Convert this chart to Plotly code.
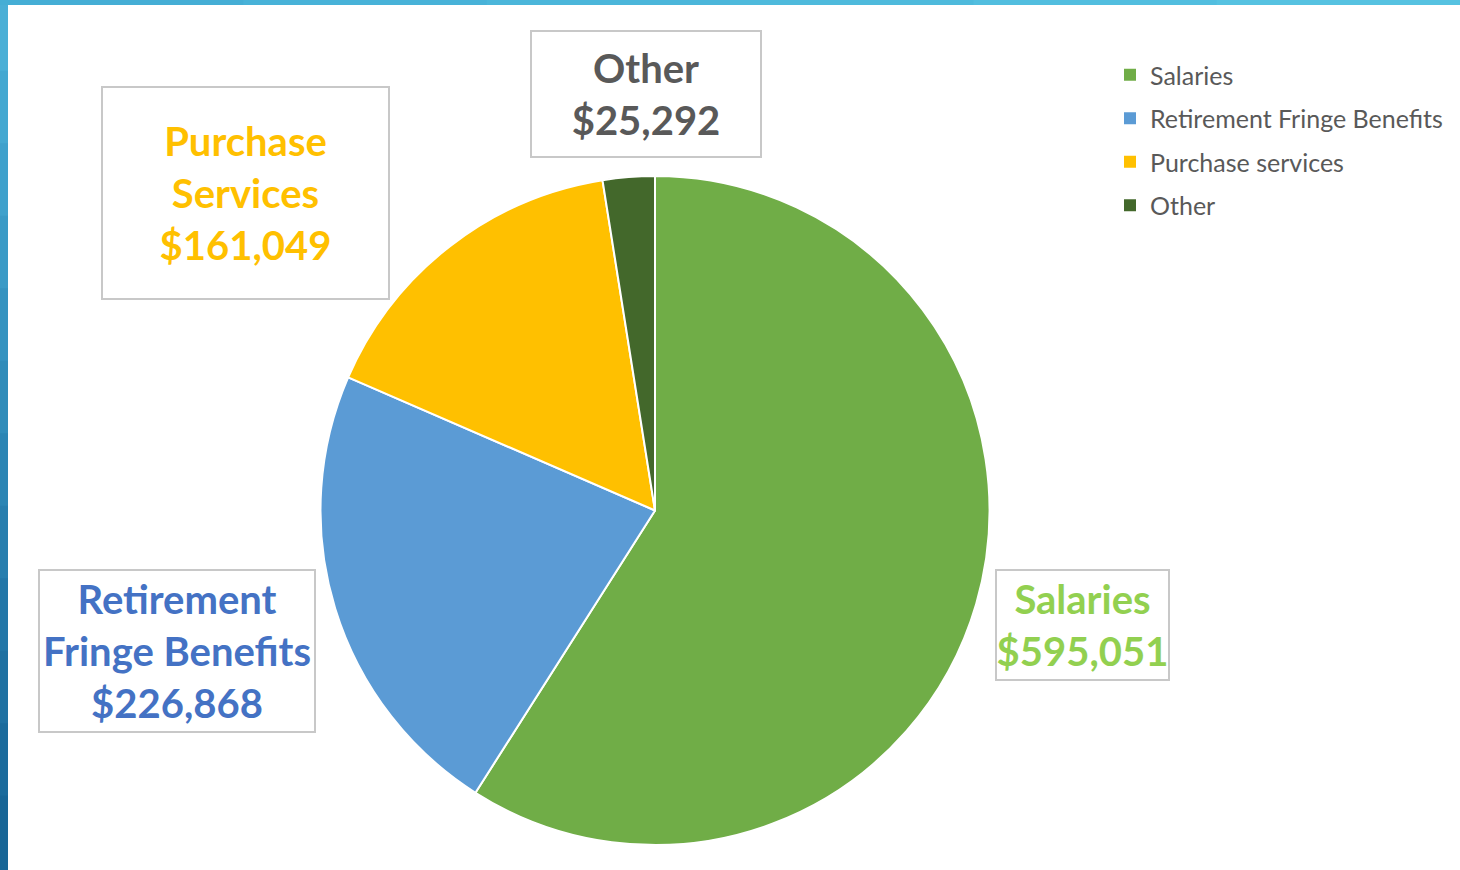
import plotly.graph_objects as go

categories = ["Salaries", "Retirement Fringe Benefits", "Purchase services", "Other"]
values = [595051, 226868, 161049, 25292]
slice_colors = ["#70AD47", "#5B9BD5", "#FFC000", "#43682B"]

label_texts = ["Salaries", "Retirement<br>Fringe Benefits", "Purchase<br>Services", "Other"]
label_colors = ["#92D050", "#4472C4", "#FFC000", "#595959"]

W, H = 1460, 870
FONT = "Lato, 'Open Sans', sans-serif"

fig = go.Figure()

fig.add_trace(go.Pie(
    labels=categories,
    values=values,
    sort=False,
    direction="clockwise",
    rotation=0,
    marker=dict(colors=slice_colors, line=dict(color="white", width=2)),
    textinfo="none",
    hoverinfo="label+value",
    showlegend=False,
    domain=dict(x=[320 / W, 990 / W], y=[1 - 845 / H, 1 - 176 / H]),
))

# legend entries
for cat, col in zip(categories, slice_colors):
    fig.add_trace(go.Scatter(
        x=[None], y=[None], mode="markers", name=cat, legendgroup=cat,
        marker=dict(symbol="square", size=11, color=col),
        showlegend=True,
    ))

# label boxes: (center x px, center y px, width px, height px)
boxes = [
    (1082.5, 625, 175, 112),
    (177, 651, 278, 164),
    (245.5, 193, 289, 214),
    (646, 94, 232, 128),
]

for txt, val, col, (cx, cy, bw, bh) in zip(label_texts, values, label_colors, boxes):
    fig.add_annotation(
        xref="paper", yref="paper",
        x=cx / W, y=1 - cy / H, xanchor="center", yanchor="middle",
        text=f"<b>{txt}<br>${val:,}</b>",
        showarrow=False,
        font=dict(family=FONT, size=40, color=col),
        align="center", valign="middle",
        width=bw - 4, height=bh - 4,
        bordercolor="#C8C8C8", borderwidth=2, borderpad=0,
        bgcolor="white",
    )

# slide frame (blue bars on top and left)
n = 12
left_cols = ["#4AAFD6", "#44A8D1", "#3FA1CC", "#3A9AC6", "#3593C0", "#308CBA",
             "#2B85B4", "#277EAE", "#2377A8", "#1F71A2", "#1B6B9C", "#186697"]
for i in range(n):
    fig.add_shape(type="rect", xref="paper", yref="paper",
                  x0=0, x1=8 / W, y0=1 - (i + 1) / n, y1=1 - i / n + 0.002,
                  fillcolor=left_cols[i], line=dict(width=0), layer="above")
top_cols = ["#45AED5", "#48B2D8", "#4BB6DA", "#4EBADC", "#52BEDF", "#56C2E1"]
for i in range(len(top_cols)):
    fig.add_shape(type="rect", xref="paper", yref="paper",
                  x0=i / len(top_cols), x1=(i + 1) / len(top_cols) + 0.002,
                  y0=1 - 5 / H, y1=1,
                  fillcolor=top_cols[i], line=dict(width=0), layer="above")

fig.update_layout(
    width=W, height=H,
    margin=dict(l=0, r=0, t=0, b=0),
    paper_bgcolor="white", plot_bgcolor="white",
    xaxis=dict(visible=False), yaxis=dict(visible=False),
    legend=dict(
        x=1110 / W, y=1 - 52 / H, xanchor="left", yanchor="top",
        font=dict(family=FONT, size=25, color="#595959"),
        tracegroupgap=8, traceorder="grouped",
        itemsizing="constant", bgcolor="rgba(0,0,0,0)",
    ),
    font=dict(family=FONT),
)

fig.write_html(
    "out.html",
    config={"displayModeBar": False},
    post_script="document.body.style.margin='0';document.body.style.overflow='hidden';",
)
